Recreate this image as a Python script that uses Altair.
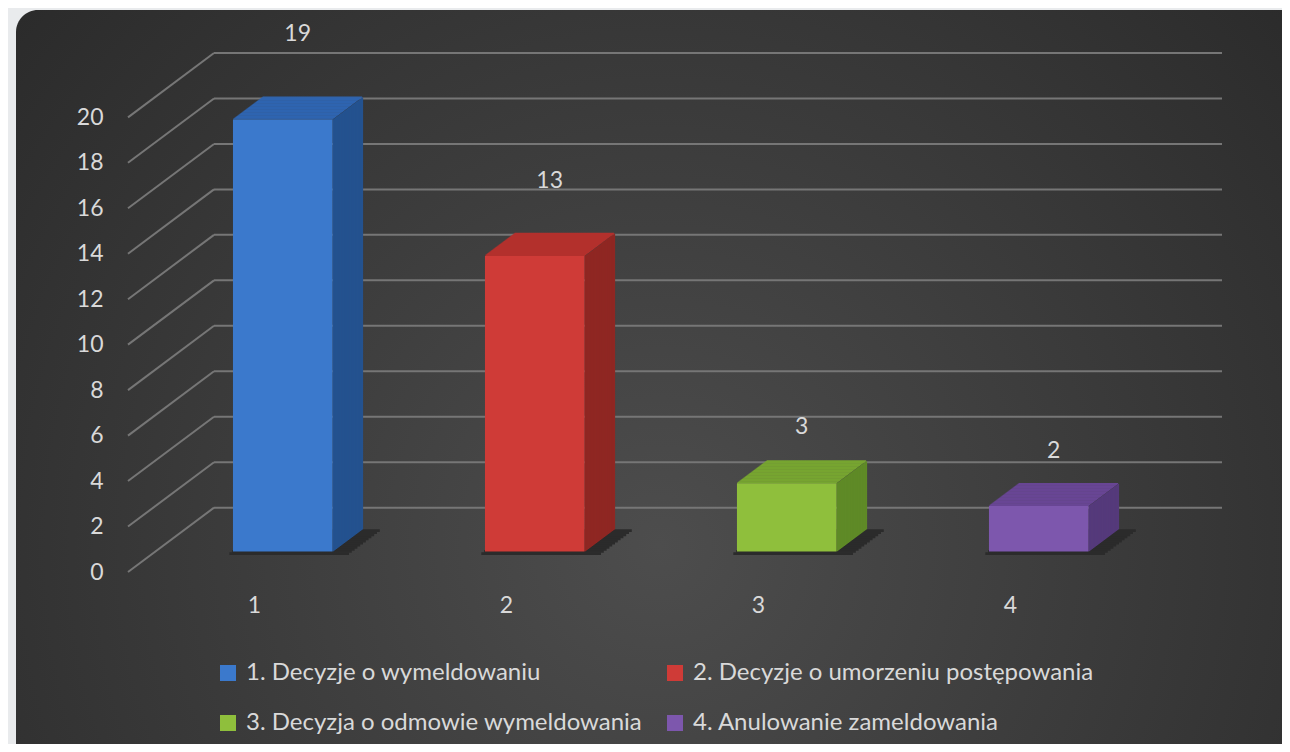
import altair as alt
import pandas as pd

# ---- data ----
categories = ["1", "2", "3", "4"]
series_names = [
    "1. Decyzje o wymeldowaniu",
    "2. Decyzje o umorzeniu postępowania",
    "3. Decyzja o odmowie wymeldowania",
    "4. Anulowanie zameldowania",
]
values = [19, 13, 3, 2]
y_ticks = [0, 2, 4, 6, 8, 10, 12, 14, 16, 18, 20]

# ---- styling / 3D projection parameters ----
front_colors = ["#3b79cc", "#cf3b37", "#8fbf3c", "#7d57ad"]
top_colors = ["#2f64b0", "#b3302d", "#77a531", "#684694"]
side_colors = ["#24528f", "#8f2723", "#5f8a27", "#553a7b"]
FONT = "Lato"
TEXT_COLOR = "#d9d9d9"
GRID_COLOR = "#767676"
SHADOW_COLOR = "#2b2b2b"

DX = 86 / 252      # x shift (category units) from front to back wall
DY = 2.83          # y shift (value units) from front to back wall
T0, T1 = 0.318, 0.668   # depth range occupied by the bars
BAR_OFF, BAR_W = 0.308, 0.395
N_SLICES = 30           # depth slices used to draw the slanted faces
YMAX = max(y_ticks) + DY
XMAX = len(categories) + DX

# ---- derived tables ----
grid_rows = []
for v in y_ticks:
    grid_rows.append({"x0": 0.0, "x1": DX, "y0": v, "y1": v + DY})
    grid_rows.append({"x0": DX, "x1": XMAX, "y0": v + DY, "y1": v + DY})
grid_df = pd.DataFrame(grid_rows)

front_rows, face_rows, shadow_rows, label_rows = [], [], [], []
dt = (T1 - T0) / N_SLICES
eps_y, eps_x = 0.03, 0.002   # tiny overlap so slices join without seams
for i, (name, v) in enumerate(zip(series_names, values)):
    xl = i + BAR_OFF + T0 * DX
    xr = xl + BAR_W
    front_rows.append({"name": name, "xl": xl, "xr": xr, "y0": T0 * DY, "y1": v + T0 * DY})
    for j in range(N_SLICES):
        ta, tb = T0 + j * dt, T0 + (j + 1) * dt
        tm = (ta + tb) / 2
        sh = (tm - T0) * DX
        # top face strip
        face_rows.append({"x0": xl + sh, "x1": xr + sh,
                          "y0": v + ta * DY, "y1": v + tb * DY + eps_y,
                          "fill": top_colors[i]})
        # side face strip
        face_rows.append({"x0": xr + (ta - T0) * DX, "x1": xr + (tb - T0) * DX + eps_x,
                          "y0": tm * DY, "y1": v + tm * DY,
                          "fill": side_colors[i]})
    # floor shadow behind / right of the bar
    n_sh = 12
    span = T1 - T0 + 0.04
    for j in range(n_sh):
        ta = T0 + j * span / n_sh
        tb = T0 + (j + 1) * span / n_sh
        sh = ((ta + tb) / 2 - T0) * DX
        shadow_rows.append({"x0": xl - 0.02 + sh, "x1": xr + 0.06 + sh,
                            "y0": ta * DY - 0.15, "y1": tb * DY - 0.15 + eps_y})
    label_rows.append({"x": i + 0.5 + 0.005 + DX * (T0 + T1) / 2,
                       "y": v + 3.15 + 0.08 * v, "t": str(v)})

front_df = pd.DataFrame(front_rows)
face_df = pd.DataFrame(face_rows)
shadow_df = pd.DataFrame(shadow_rows)
label_df = pd.DataFrame(label_rows)

xs = alt.Scale(domain=[0, XMAX], nice=False, zero=False)
ys = alt.Scale(domain=[0, YMAX], nice=False, zero=False)
x_axis = alt.Axis(
    values=[i + 0.5 for i in range(len(categories))],
    labelExpr="format(datum.value + 0.5, 'd')",
    title=None, domain=False, ticks=False, grid=False, zindex=1,
    labelPadding=22, labelFont=FONT, labelFontSize=23, labelColor=TEXT_COLOR)
y_axis = alt.Axis(
    values=y_ticks, title=None, domain=False, ticks=False, grid=False, zindex=1,
    labelPadding=25, labelFont=FONT, labelFontSize=23, labelColor=TEXT_COLOR)


def X(field):
    return alt.X(field, scale=xs, axis=x_axis, title=None)


def Y(field):
    return alt.Y(field, scale=ys, axis=y_axis, title=None, stack=None)


panel = alt.Chart(pd.DataFrame({"p": [0]})).mark_rect(
    cornerRadius=22,
    fill={"gradient": "radial", "x1": 0.5, "y1": 0.62, "r1": 0,
          "x2": 0.5, "y2": 0.62, "r2": 0.78,
          "stops": [{"offset": 0, "color": "#4d4d4d"},
                    {"offset": 1, "color": "#242424"}]},
).encode(x=alt.value(-112), x2=alt.value(1175), y=alt.value(-43), y2=alt.value(720))

grid = alt.Chart(grid_df).mark_rule(color=GRID_COLOR, strokeWidth=2).encode(
    x=X("x0:Q"), x2="x1:Q", y=Y("y0:Q"), y2="y1:Q",
)

shadow = alt.Chart(shadow_df).mark_rect(color=SHADOW_COLOR).encode(
    x=X("x0:Q"), x2="x1:Q", y=Y("y0:Q"), y2="y1:Q",
)

faces = alt.Chart(face_df).mark_rect().encode(
    x=X("x0:Q"), x2="x1:Q", y=Y("y0:Q"), y2="y1:Q",
    fill=alt.Fill("fill:N", scale=None, legend=None),
)

front = alt.Chart(front_df).mark_rect().encode(
    x=X("xl:Q"), x2="xr:Q", y=Y("y0:Q"), y2="y1:Q",
    color=alt.Color("name:N", scale=alt.Scale(domain=series_names, range=front_colors),
                    legend=alt.Legend(
                        title=None, orient="none", legendX=88, legendY=608,
                        direction="horizontal", columns=2, columnPadding=20, rowPadding=26,
                        symbolType="square", symbolSize=256, symbolStrokeWidth=0,
                        labelFont=FONT, labelFontSize=24, labelColor=TEXT_COLOR,
                        labelLimit=700, labelOffset=6, padding=0, zindex=1)),
)

labels = alt.Chart(label_df).mark_text(
    font=FONT, fontSize=23, color=TEXT_COLOR, align="center", baseline="middle"
).encode(x=X("x:Q"), y=Y("y:Q"), text="t:N")

chart = alt.layer(panel, grid, shadow, faces, front, labels).properties(
    width=1094, height=519,
    padding={"left": 120, "top": 45, "right": 60, "bottom": 172},
    autosize=alt.AutoSizeParams(type="none"),
    background="#e9ebed",
).configure_view(strokeWidth=0)

chart.save("out.html", embed_options={"renderer": "svg", "actions": False})
